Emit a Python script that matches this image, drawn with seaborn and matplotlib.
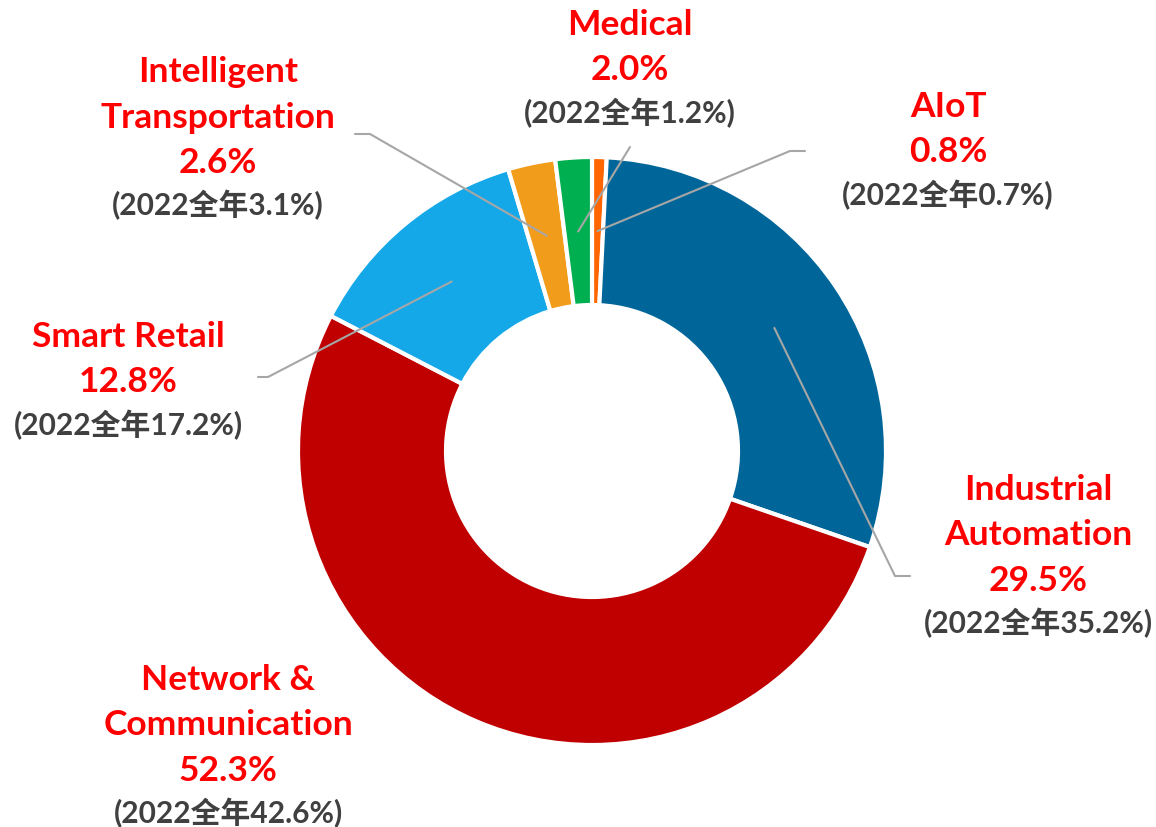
import numpy as np, matplotlib, matplotlib.pyplot as plt
import seaborn as sns

sns.set_theme(style='white')
plt.rcParams['font.family'] = ['Lato', 'Noto Sans CJK SC', 'DejaVu Sans']

# data (clockwise from 12 o'clock)
SEGMENTS = ['AIoT', 'Industrial\nAutomation', 'Network &\nCommunication',
            'Smart Retail', 'Intelligent\nTransportation', 'Medical']
SHARE    = [0.8, 29.5, 52.3, 12.8, 2.6, 2.0]
SHARE_22 = [0.7, 35.2, 42.6, 17.2, 3.1, 1.2]
COLORS   = ['#FF6600', '#006699', '#C00000', '#15A8E8', '#F29C1C', '#00B050']

# layout in pixel coords: label centre of first line, leader elbow, leader end
LABEL_XY = [(948, 107), (1038, 490), (228, 680), (128, 337), (218, 72), (630, 25)]
ELBOW    = [(790, 152), (895, 577), None, (268, 378), (370, 135), (630, 148)]
LEAD_END = [(805, 152), (910, 577), None, (258, 378), (355, 135), (630, 148)]
CX, CY, R, RING = 592, 452, 294, 148

fig = plt.figure(figsize=(11.56, 8.28), dpi=100)
ax = fig.add_axes([0, 0, 1, 1])
pal = sns.color_palette(COLORS)
wedges, _ = ax.pie(SHARE, colors=pal, startangle=-90, counterclock=True,
                   center=(CX, CY), radius=R,
                   wedgeprops=dict(width=RING, edgecolor='white', linewidth=3))
ax.set_xlim(0, 1156); ax.set_ylim(828, 0)
ax.set_aspect('equal')
ax.axis('off')

RED, GREY, LINE = '#FF0000', '#404040', '#A6A6A6'
LH = 45.5
for i, w in enumerate(wedges):
    name_lines = SEGMENTS[i].split('\n')
    x, y = LABEL_XY[i]
    for k, t in enumerate(name_lines + [f'{SHARE[i]:.1f}%']):
        ax.text(x, y + k * LH, t, ha='center', va='center', color=RED,
                fontsize=25.5, fontweight='bold')
    ax.text(x, y + (len(name_lines) - 1) * LH + LH + 42, f'(2022全年{SHARE_22[i]:.1f}%)',
            ha='center', va='center', color=GREY, fontsize=21.5, fontweight='bold')
    if ELBOW[i] is not None:
        mid = np.deg2rad((w.theta1 + w.theta2) / 2)
        rm = R - RING / 2
        sx, sy = CX + rm * np.cos(mid), CY + rm * np.sin(mid)
        ex, ey = ELBOW[i]; fx, fy = LEAD_END[i]
        ax.plot([sx, ex, fx], [sy, ey, fy], color=LINE, lw=1.5, zorder=5)

plt.savefig('out.png', dpi=100)
plt.close()
